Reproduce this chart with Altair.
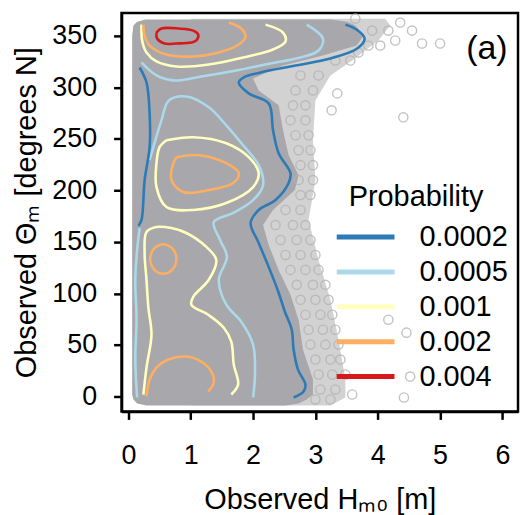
import altair as alt
import pandas as pd

# ---------------- data ----------------
levels = ["0.0002", "0.0005", "0.001", "0.002", "0.004"]
level_colors = ["#2c7bb6", "#abd9e9", "#ffffbf", "#fdae61", "#d7191c"]

x_ticks = [0, 1, 2, 3, 4, 5, 6]
y_ticks = [0, 50, 100, 150, 200, 250, 300, 350]

# dense cloud of observations (Hm0 extent per direction)
core_dir = [-8.7, -6.8, -2.9, 1.9, 16.4, 45.5, 74.5, 98.6, 122.8, 147.0, 166.3, 180.9, 200.2,
            214.7, 234.0, 258.2, 282.4, 296.9, 308.5, 321.1, 330.8, 340.4, 350.0, 359.8, 363.6, 365.6]
core_left = [0.29, 0.14, 0.08] + [0.06] * 20 + [0.08, 0.14, 0.27]
core_right = [2.52, 2.73, 2.86, 2.96, 2.96, 2.80, 2.73, 2.60, 2.41, 2.25, 2.16, 2.32, 2.67,
              2.73, 2.57, 2.48, 2.41, 2.09, 2.00, 2.48, 3.12, 3.66, 3.77, 3.64, 3.51, 3.24]

# sparse fringe of observations
fringe_dir = [-8.7, -1.0, 16.4, 55.1, 93.8, 132.5, 171.2, 209.9, 248.5, 287.2, 311.4, 325.9, 345.3, 359.8, 366.5]
fringe_right = [3.24, 3.48, 3.48, 3.37, 3.24, 3.05, 2.89, 3.00, 2.96, 3.00, 3.24, 3.59, 4.01, 4.20, 4.12]

# individual observations (open circles) at the edge of the cloud
circ_h = [3.91, 4.17, 3.85, 4.04, 3.32, 3.56, 2.76, 3.05, 2.68, 2.96, 2.64, 2.84, 2.60, 2.84,
          2.68, 2.89, 2.73, 2.92, 2.76, 2.96, 2.73, 2.96, 2.76, 2.92, 2.52, 2.76,
          2.36, 2.64, 2.84, 2.44, 2.70, 2.92, 2.52, 2.76, 3.00, 2.60, 2.84, 3.05,
          2.70, 2.96, 3.16, 2.76, 3.00, 3.21, 2.84, 3.08, 3.27, 2.89, 3.12, 3.32,
          2.92, 3.16, 3.37, 3.00, 3.24, 3.40, 3.05, 3.27, 3.48, 3.08, 3.32, 3.00, 3.24,
          4.36, 4.55, 4.71, 5.00, 3.35, 3.26, 4.41, 4.17, 4.46, 4.52, 4.42, 3.59,
          3.64, 4.28, 3.69]
circ_d = [354.9, 354.9, 340.4, 340.4, 325.9, 325.9, 311.4, 311.4, 296.9, 296.9, 282.4, 282.4, 267.9, 267.9,
          253.4, 253.4, 238.9, 238.9, 224.4, 224.4, 209.9, 209.9, 195.4, 195.4, 180.9, 180.9,
          166.3, 166.3, 166.3, 151.8, 151.8, 151.8, 137.3, 137.3, 137.3, 122.8, 122.8, 122.8,
          108.3, 108.3, 108.3, 93.8, 93.8, 93.8, 79.3, 79.3, 79.3, 64.8, 64.8, 64.8,
          50.3, 50.3, 50.3, 35.8, 35.8, 35.8, 21.3, 21.3, 21.3, 6.8, 6.8, -2.9, -2.9,
          362.7, 354.9, 342.4, 342.4, 294.0, 277.6, 270.8, 74.5, 61.9, 19.3, -1.0, 1.9,
          366.5, 345.3, 333.7]

# contour lines [Hm0, direction]
db_left = [[0.18, 319.1], [0.29, 304.6], [0.34, 274.7], [0.34, 241.8], [0.26, 209.9], [0.21, 171.2], [0.16, 165.4]]
db_right = [[2.65, -1.0], [2.81, 4.8], [2.84, 11.6], [2.72, 26.1], [2.65, 45.5], [2.62, 64.8], [2.51, 82.2],
            [2.41, 100.6], [2.25, 125.7], [2.09, 148.9], [1.96, 168.3], [2.09, 180.9], [2.36, 190.5],
            [2.57, 207.0], [2.60, 216.6], [2.41, 236.0], [2.32, 258.2], [2.25, 284.3], [1.93, 294.0],
            [1.77, 304.6], [1.85, 309.5], [2.12, 314.3], [2.68, 321.0], [3.24, 327.9], [3.67, 337.5],
            [3.79, 347.2], [3.66, 355.9], [3.48, 360.7]]
lb_left = [[0.14, -1.0], [0.11, 35.8], [0.13, 74.5], [0.11, 113.2], [0.14, 142.2], [0.18, 163.4]]
lb_top = [[0.21, 324.0], [0.45, 311.4], [0.72, 306.6], [1.17, 310.4], [1.73, 316.2], [2.28, 323.0],
          [2.76, 328.8], [3.05, 335.6], [3.12, 347.2], [2.86, 360.7]]
lb_mid = [[0.34, 229.2], [0.53, 267.9], [0.65, 287.2], [0.93, 291.0], [1.29, 280.5], [1.57, 263.0],
          [1.84, 243.7], [2.09, 224.4], [2.16, 205.0], [2.00, 190.5], [1.68, 178.0], [1.37, 169.2],
          [1.47, 151.8], [1.58, 135.4], [1.45, 113.2], [1.57, 89.0], [1.81, 72.5], [2.00, 50.3],
          [2.03, 21.3], [2.00, -1.0]]
yl_top = [[0.21, 360.7], [0.22, 345.3], [0.29, 333.7], [0.45, 325.0], [0.77, 320.1], [1.29, 322.0],
          [1.84, 328.8], [2.32, 336.6], [2.52, 344.3], [2.48, 353.0], [2.20, 360.7]]
yl_mid = [[0.61, 248.5], [1.04, 251.5], [1.57, 245.6], [1.93, 232.1], [2.09, 216.6], [2.00, 203.1],
          [1.57, 187.6], [1.04, 180.9], [0.61, 183.8], [0.45, 203.1], [0.45, 226.3], [0.50, 241.8], [0.61, 248.5]]
yl_low = [[0.24, 1.9], [0.29, 28.0], [0.37, 60.0], [0.32, 86.1], [0.29, 113.2], [0.26, 139.3], [0.29, 159.6],
          [0.45, 164.4], [0.69, 163.4], [0.93, 158.6], [1.25, 145.1], [1.41, 132.5], [1.29, 113.2],
          [1.04, 96.7], [1.01, 89.0], [1.28, 79.3], [1.53, 66.7], [1.65, 53.2], [1.69, 30.9], [1.76, 11.6], [1.65, 1.9]]
or_top = [[0.24, 360.7], [0.26, 350.0], [0.34, 340.4], [0.61, 331.7], [1.04, 329.8], [1.45, 333.7],
          [1.77, 341.4], [1.88, 349.0], [1.81, 356.9], [1.61, 362.7]]
or_mid = [[0.77, 232.1], [1.13, 234.0], [1.57, 226.3], [1.77, 216.6], [1.68, 207.0], [1.29, 200.2],
          [0.88, 198.3], [0.69, 209.9], [0.72, 226.3], [0.77, 232.1]]
or_small = [[0.56, 148.0], [0.70, 144.1], [0.77, 133.5], [0.70, 122.8], [0.56, 119.0], [0.42, 122.8],
            [0.35, 133.5], [0.42, 144.1], [0.56, 148.0]]
or_bottom = [[0.29, 0.0], [0.34, 16.4], [0.45, 28.0], [0.64, 35.8], [0.93, 38.7], [1.17, 33.8],
             [1.33, 24.2], [1.37, 13.5], [1.28, 4.8]]
rd_top = [[0.45, 353.0], [0.53, 356.9], [0.81, 356.9], [1.04, 354.9], [1.12, 351.0], [1.09, 345.3],
          [1.01, 343.3], [0.77, 342.4], [0.58, 342.4], [0.46, 347.2], [0.45, 353.0]]

contour_sets = [("0.0005", lb_left), ("0.0005", lb_top), ("0.0005", lb_mid),
                ("0.0002", db_left), ("0.0002", db_right),
                ("0.001", yl_top), ("0.001", yl_mid), ("0.001", yl_low),
                ("0.002", or_top), ("0.002", or_mid), ("0.002", or_small), ("0.002", or_bottom),
                ("0.004", rd_top)]

panel_label = ["(a)"]
panel_pos = [5.75, 337.5]

# ---------------- tables ----------------
core_df = pd.DataFrame({"d": core_dir, "l": core_left, "r": core_right})
fringe_df = pd.DataFrame({"d": fringe_dir, "l": [1.0] * len(fringe_dir), "r": fringe_right})
circ_df = pd.DataFrame({"h": circ_h, "d": circ_d})
rows = []
for k, (lev, pts) in enumerate(contour_sets):
    for i, (h, d) in enumerate(pts):
        rows.append({"h": h, "d": d, "level": lev, "seg": k, "i": i})
line_df = pd.DataFrame(rows)
text_df = pd.DataFrame({"h": [panel_pos[0]], "d": [panel_pos[1]], "t": panel_label})

FONT = "Liberation Sans"
xs = alt.Scale(domain=[-0.11, 6.25], nice=False, zero=False)
ys = alt.Scale(domain=[-14.5, 372], nice=False, zero=False)
xax = alt.Axis(values=x_ticks, title="Observed Hₘ₀ [m]", labelPadding=23, titlePadding=17)
yax = alt.Axis(values=y_ticks, title="Observed Θₘ [degrees N]", labelPadding=17, titlePadding=10)

fringe = alt.Chart(fringe_df).mark_area(orient="horizontal", color="#d2d2d2", clip=True).encode(
    y=alt.Y("d:Q", scale=ys, axis=yax),
    x=alt.X("l:Q", scale=xs, axis=xax),
    x2="r:Q",
)
core = alt.Chart(core_df).mark_area(orient="horizontal", color="#a7a7ac", clip=True).encode(
    y=alt.Y("d:Q", scale=ys, axis=yax),
    x=alt.X("l:Q", scale=xs, axis=xax),
    x2="r:Q",
)
circles = alt.Chart(circ_df).mark_point(shape="circle", filled=False, size=85, stroke="#b4b4b4",
                                         strokeWidth=1.4, opacity=0.8, clip=True).encode(
    x=alt.X("h:Q", scale=xs, axis=xax),
    y=alt.Y("d:Q", scale=ys, axis=yax),
)
lines = alt.Chart(line_df).mark_line(strokeWidth=2.6, interpolate="catmull-rom", clip=True).encode(
    x=alt.X("h:Q", scale=xs, axis=xax),
    y=alt.Y("d:Q", scale=ys, axis=yax),
    color=alt.Color("level:N", scale=alt.Scale(domain=levels, range=level_colors),
                    legend=alt.Legend(title="Probability", orient="none", legendX=228, legendY=171,
                                      symbolType="M-2,0H2", symbolSize=841, symbolStrokeWidth=5,
                                      labelFontSize=29, titleFontSize=29, titleFontWeight="normal",
                                      labelOffset=37, rowPadding=3, titleAnchor="start", padding=0,
                                      titlePadding=8, labelFont=FONT, titleFont=FONT,
                                      labelColor="black", titleColor="black")),
    detail="seg:N",
    order="i:Q",
)
label = alt.Chart(text_df).mark_text(fontSize=34, font=FONT, color="black", align="center",
                                     baseline="middle").encode(
    x=alt.X("h:Q", scale=xs, axis=xax),
    y=alt.Y("d:Q", scale=ys, axis=yax),
    text="t:N",
)

chart = alt.layer(fringe, core, circles, lines, label).properties(
    width=398, height=400,
    padding={"left": 4, "top": 4, "right": 3, "bottom": 2},
).configure_view(stroke="black", strokeWidth=2.5).configure_axis(
    grid=False, domainColor="black", domainWidth=2.5, tickColor="black", tickWidth=2.5, tickSize=8,
    labelFontSize=27, titleFontSize=29, labelFont=FONT, titleFont=FONT, labelColor="black",
    titleColor="black", titleFontWeight="normal",
)

chart.save("out.html", embed_options={"renderer": "svg", "actions": False})
